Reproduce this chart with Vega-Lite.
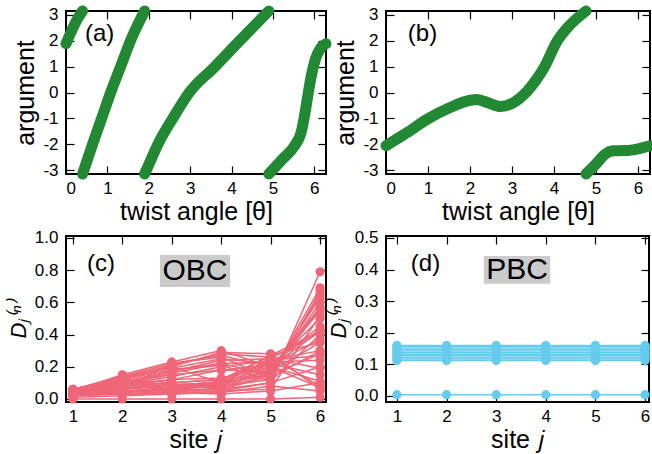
{
  "$schema": "https://vega.github.io/schema/vega-lite/v6.json",
  "background": "white",
  "padding": {"left": 6, "top": 4, "right": 0, "bottom": 0},
  "bounds": "flush",
  "columns": 2,
  "spacing": {"row": 62, "column": 60},
  "datasets": {
    "a": [
      {"seg": 1, "t": 0, "a": 1.88}, {"seg": 1, "t": 0.1, "a": 2.25}, {"seg": 1, "t": 0.2, "a": 2.6}, {"seg": 1, "t": 0.3, "a": 2.9}, {"seg": 1, "t": 0.4, "a": 3.1416},
      {"seg": 2, "t": 0.4, "a": -3.1416}, {"seg": 2, "t": 0.64, "a": -2}, {"seg": 2, "t": 0.86, "a": -1}, {"seg": 2, "t": 1.08, "a": 0}, {"seg": 2, "t": 1.32, "a": 1}, {"seg": 2, "t": 1.56, "a": 2}, {"seg": 2, "t": 1.9, "a": 3.1416},
      {"seg": 3, "t": 1.9, "a": -3.1416}, {"seg": 3, "t": 2.05, "a": -2.6}, {"seg": 3, "t": 2.22, "a": -2}, {"seg": 3, "t": 2.58, "a": -1}, {"seg": 3, "t": 2.98, "a": 0}, {"seg": 3, "t": 3.6, "a": 1}, {"seg": 3, "t": 4.2, "a": 2}, {"seg": 3, "t": 4.9, "a": 3.1416},
      {"seg": 4, "t": 4.9, "a": -3.1416}, {"seg": 4, "t": 5.23, "a": -2.57}, {"seg": 4, "t": 5.52, "a": -2.06}, {"seg": 4, "t": 5.68, "a": -1.55}, {"seg": 4, "t": 5.76, "a": -0.93}, {"seg": 4, "t": 5.84, "a": -0.16}, {"seg": 4, "t": 5.93, "a": 0.66}, {"seg": 4, "t": 6.03, "a": 1.3}, {"seg": 4, "t": 6.15, "a": 1.7}, {"seg": 4, "t": 6.2832, "a": 1.88}
    ],
    "b": [
      {"seg": 1, "t": 0, "a": -2.05}, {"seg": 1, "t": 0.5, "a": -1.55}, {"seg": 1, "t": 0.96, "a": -1.05}, {"seg": 1, "t": 1.5, "a": -0.6}, {"seg": 1, "t": 2.0, "a": -0.3}, {"seg": 1, "t": 2.15, "a": -0.27}, {"seg": 1, "t": 2.4, "a": -0.38}, {"seg": 1, "t": 2.72, "a": -0.54}, {"seg": 1, "t": 3.0, "a": -0.42}, {"seg": 1, "t": 3.36, "a": 0.05}, {"seg": 1, "t": 3.76, "a": 0.95}, {"seg": 1, "t": 4.08, "a": 2.0}, {"seg": 1, "t": 4.32, "a": 2.5}, {"seg": 1, "t": 4.76, "a": 3.1416},
      {"seg": 2, "t": 4.76, "a": -3.1416}, {"seg": 2, "t": 5.0, "a": -2.75}, {"seg": 2, "t": 5.2, "a": -2.4}, {"seg": 2, "t": 5.4, "a": -2.25}, {"seg": 2, "t": 5.7, "a": -2.24}, {"seg": 2, "t": 6.0, "a": -2.17}, {"seg": 2, "t": 6.2832, "a": -2.05}
    ],
    "c": [
      {"n":1,"j":1,"D":0.01},{"n":1,"j":2,"D":0.02},{"n":1,"j":3,"D":0.03},{"n":1,"j":4,"D":0.05},{"n":1,"j":5,"D":0.10},{"n":1,"j":6,"D":0.79},
      {"n":2,"j":1,"D":0.02},{"n":2,"j":2,"D":0.03},{"n":2,"j":3,"D":0.04},{"n":2,"j":4,"D":0.07},{"n":2,"j":5,"D":0.15},{"n":2,"j":6,"D":0.69},
      {"n":3,"j":1,"D":0.02},{"n":3,"j":2,"D":0.04},{"n":3,"j":3,"D":0.06},{"n":3,"j":4,"D":0.09},{"n":3,"j":5,"D":0.16},{"n":3,"j":6,"D":0.63},
      {"n":4,"j":1,"D":0.03},{"n":4,"j":2,"D":0.05},{"n":4,"j":3,"D":0.07},{"n":4,"j":4,"D":0.10},{"n":4,"j":5,"D":0.15},{"n":4,"j":6,"D":0.60},
      {"n":5,"j":1,"D":0.03},{"n":5,"j":2,"D":0.06},{"n":5,"j":3,"D":0.08},{"n":5,"j":4,"D":0.11},{"n":5,"j":5,"D":0.17},{"n":5,"j":6,"D":0.55},
      {"n":6,"j":1,"D":0.04},{"n":6,"j":2,"D":0.07},{"n":6,"j":3,"D":0.09},{"n":6,"j":4,"D":0.10},{"n":6,"j":5,"D":0.20},{"n":6,"j":6,"D":0.50},
      {"n":7,"j":1,"D":0.03},{"n":7,"j":2,"D":0.08},{"n":7,"j":3,"D":0.10},{"n":7,"j":4,"D":0.12},{"n":7,"j":5,"D":0.22},{"n":7,"j":6,"D":0.45},
      {"n":8,"j":1,"D":0.04},{"n":8,"j":2,"D":0.09},{"n":8,"j":3,"D":0.12},{"n":8,"j":4,"D":0.13},{"n":8,"j":5,"D":0.20},{"n":8,"j":6,"D":0.42},
      {"n":9,"j":1,"D":0.05},{"n":9,"j":2,"D":0.10},{"n":9,"j":3,"D":0.15},{"n":9,"j":4,"D":0.18},{"n":9,"j":5,"D":0.17},{"n":9,"j":6,"D":0.35},
      {"n":10,"j":1,"D":0.05},{"n":10,"j":2,"D":0.12},{"n":10,"j":3,"D":0.18},{"n":10,"j":4,"D":0.22},{"n":10,"j":5,"D":0.15},{"n":10,"j":6,"D":0.28},
      {"n":11,"j":1,"D":0.06},{"n":11,"j":2,"D":0.14},{"n":11,"j":3,"D":0.22},{"n":11,"j":4,"D":0.27},{"n":11,"j":5,"D":0.20},{"n":11,"j":6,"D":0.11},
      {"n":12,"j":1,"D":0.05},{"n":12,"j":2,"D":0.15},{"n":12,"j":3,"D":0.23},{"n":12,"j":4,"D":0.30},{"n":12,"j":5,"D":0.20},{"n":12,"j":6,"D":0.07},
      {"n":13,"j":1,"D":0.04},{"n":13,"j":2,"D":0.13},{"n":13,"j":3,"D":0.21},{"n":13,"j":4,"D":0.28},{"n":13,"j":5,"D":0.26},{"n":13,"j":6,"D":0.08},
      {"n":14,"j":1,"D":0.05},{"n":14,"j":2,"D":0.12},{"n":14,"j":3,"D":0.20},{"n":14,"j":4,"D":0.29},{"n":14,"j":5,"D":0.28},{"n":14,"j":6,"D":0.06},
      {"n":15,"j":1,"D":0.06},{"n":15,"j":2,"D":0.13},{"n":15,"j":3,"D":0.19},{"n":15,"j":4,"D":0.25},{"n":15,"j":5,"D":0.22},{"n":15,"j":6,"D":0.15},
      {"n":16,"j":1,"D":0.04},{"n":16,"j":2,"D":0.11},{"n":16,"j":3,"D":0.17},{"n":16,"j":4,"D":0.24},{"n":16,"j":5,"D":0.25},{"n":16,"j":6,"D":0.19},
      {"n":17,"j":1,"D":0.05},{"n":17,"j":2,"D":0.10},{"n":17,"j":3,"D":0.16},{"n":17,"j":4,"D":0.22},{"n":17,"j":5,"D":0.23},{"n":17,"j":6,"D":0.24},
      {"n":18,"j":1,"D":0.03},{"n":18,"j":2,"D":0.09},{"n":18,"j":3,"D":0.14},{"n":18,"j":4,"D":0.20},{"n":18,"j":5,"D":0.24},{"n":18,"j":6,"D":0.30},
      {"n":19,"j":1,"D":0.04},{"n":19,"j":2,"D":0.08},{"n":19,"j":3,"D":0.12},{"n":19,"j":4,"D":0.18},{"n":19,"j":5,"D":0.21},{"n":19,"j":6,"D":0.37},
      {"n":20,"j":1,"D":0.02},{"n":20,"j":2,"D":0.06},{"n":20,"j":3,"D":0.09},{"n":20,"j":4,"D":0.08},{"n":20,"j":5,"D":0.19},{"n":20,"j":6,"D":0.56},
      {"n":21,"j":1,"D":0.03},{"n":21,"j":2,"D":0.07},{"n":21,"j":3,"D":0.08},{"n":21,"j":4,"D":0.07},{"n":21,"j":5,"D":0.18},{"n":21,"j":6,"D":0.57},
      {"n":22,"j":1,"D":0.04},{"n":22,"j":2,"D":0.05},{"n":22,"j":3,"D":0.06},{"n":22,"j":4,"D":0.06},{"n":22,"j":5,"D":0.14},{"n":22,"j":6,"D":0.65},
      {"n":23,"j":1,"D":0.05},{"n":23,"j":2,"D":0.10},{"n":23,"j":3,"D":0.08},{"n":23,"j":4,"D":0.10},{"n":23,"j":5,"D":0.25},{"n":23,"j":6,"D":0.42},
      {"n":24,"j":1,"D":0.04},{"n":24,"j":2,"D":0.12},{"n":24,"j":3,"D":0.10},{"n":24,"j":4,"D":0.12},{"n":24,"j":5,"D":0.27},{"n":24,"j":6,"D":0.35},
      {"n":25,"j":1,"D":0.06},{"n":25,"j":2,"D":0.11},{"n":25,"j":3,"D":0.09},{"n":25,"j":4,"D":0.09},{"n":25,"j":5,"D":0.22},{"n":25,"j":6,"D":0.43},
      {"n":26,"j":1,"D":0.03},{"n":26,"j":2,"D":0.04},{"n":26,"j":3,"D":0.06},{"n":26,"j":4,"D":0.08},{"n":26,"j":5,"D":0.12},{"n":26,"j":6,"D":0.67},
      {"n":27,"j":1,"D":0.00},{"n":27,"j":2,"D":0.00},{"n":27,"j":3,"D":0.00},{"n":27,"j":4,"D":0.00},{"n":27,"j":5,"D":0.00},{"n":27,"j":6,"D":0.01},
      {"n":28,"j":1,"D":0.05},{"n":28,"j":2,"D":0.14},{"n":28,"j":3,"D":0.20},{"n":28,"j":4,"D":0.10},{"n":28,"j":5,"D":0.24},{"n":28,"j":6,"D":0.27},
      {"n":29,"j":1,"D":0.04},{"n":29,"j":2,"D":0.10},{"n":29,"j":3,"D":0.06},{"n":29,"j":4,"D":0.11},{"n":29,"j":5,"D":0.27},{"n":29,"j":6,"D":0.42},
      {"n":30,"j":1,"D":0.03},{"n":30,"j":2,"D":0.06},{"n":30,"j":3,"D":0.22},{"n":30,"j":4,"D":0.26},{"n":30,"j":5,"D":0.13},{"n":30,"j":6,"D":0.30},
      {"n":31,"j":1,"D":0.02},{"n":31,"j":2,"D":0.08},{"n":31,"j":3,"D":0.18},{"n":31,"j":4,"D":0.21},{"n":31,"j":5,"D":0.11},{"n":31,"j":6,"D":0.40},
      {"n":32,"j":1,"D":0.05},{"n":32,"j":2,"D":0.09},{"n":32,"j":3,"D":0.05},{"n":32,"j":4,"D":0.05},{"n":32,"j":5,"D":0.06},{"n":32,"j":6,"D":0.52},
      {"n":33,"j":1,"D":0.03},{"n":33,"j":2,"D":0.05},{"n":33,"j":3,"D":0.04},{"n":33,"j":4,"D":0.03},{"n":33,"j":5,"D":0.05},{"n":33,"j":6,"D":0.10},
      {"n":34,"j":1,"D":0.04},{"n":34,"j":2,"D":0.03},{"n":34,"j":3,"D":0.03},{"n":34,"j":4,"D":0.04},{"n":34,"j":5,"D":0.08},{"n":34,"j":6,"D":0.05},
      {"n":35,"j":1,"D":0.02},{"n":35,"j":2,"D":0.03},{"n":35,"j":3,"D":0.05},{"n":35,"j":4,"D":0.06},{"n":35,"j":5,"D":0.10},{"n":35,"j":6,"D":0.20}
    ],
    "d": [
      {"n":1,"j":1,"D":0.004},{"n":1,"j":2,"D":0.004},{"n":1,"j":3,"D":0.004},{"n":1,"j":4,"D":0.004},{"n":1,"j":5,"D":0.004},{"n":1,"j":6,"D":0.004},
      {"n":2,"j":1,"D":0.112},{"n":2,"j":2,"D":0.112},{"n":2,"j":3,"D":0.112},{"n":2,"j":4,"D":0.112},{"n":2,"j":5,"D":0.112},{"n":2,"j":6,"D":0.112},
      {"n":3,"j":1,"D":0.117},{"n":3,"j":2,"D":0.117},{"n":3,"j":3,"D":0.117},{"n":3,"j":4,"D":0.117},{"n":3,"j":5,"D":0.117},{"n":3,"j":6,"D":0.117},
      {"n":4,"j":1,"D":0.122},{"n":4,"j":2,"D":0.122},{"n":4,"j":3,"D":0.122},{"n":4,"j":4,"D":0.122},{"n":4,"j":5,"D":0.122},{"n":4,"j":6,"D":0.122},
      {"n":5,"j":1,"D":0.127},{"n":5,"j":2,"D":0.127},{"n":5,"j":3,"D":0.127},{"n":5,"j":4,"D":0.127},{"n":5,"j":5,"D":0.127},{"n":5,"j":6,"D":0.127},
      {"n":6,"j":1,"D":0.132},{"n":6,"j":2,"D":0.132},{"n":6,"j":3,"D":0.132},{"n":6,"j":4,"D":0.132},{"n":6,"j":5,"D":0.132},{"n":6,"j":6,"D":0.132},
      {"n":7,"j":1,"D":0.137},{"n":7,"j":2,"D":0.137},{"n":7,"j":3,"D":0.137},{"n":7,"j":4,"D":0.137},{"n":7,"j":5,"D":0.137},{"n":7,"j":6,"D":0.137},
      {"n":8,"j":1,"D":0.142},{"n":8,"j":2,"D":0.142},{"n":8,"j":3,"D":0.142},{"n":8,"j":4,"D":0.142},{"n":8,"j":5,"D":0.142},{"n":8,"j":6,"D":0.142},
      {"n":9,"j":1,"D":0.147},{"n":9,"j":2,"D":0.147},{"n":9,"j":3,"D":0.147},{"n":9,"j":4,"D":0.147},{"n":9,"j":5,"D":0.147},{"n":9,"j":6,"D":0.147},
      {"n":10,"j":1,"D":0.152},{"n":10,"j":2,"D":0.152},{"n":10,"j":3,"D":0.152},{"n":10,"j":4,"D":0.152},{"n":10,"j":5,"D":0.152},{"n":10,"j":6,"D":0.152},
      {"n":11,"j":1,"D":0.157},{"n":11,"j":2,"D":0.157},{"n":11,"j":3,"D":0.157},{"n":11,"j":4,"D":0.157},{"n":11,"j":5,"D":0.157},{"n":11,"j":6,"D":0.157},
      {"n":12,"j":1,"D":0.16},{"n":12,"j":2,"D":0.16},{"n":12,"j":3,"D":0.16},{"n":12,"j":4,"D":0.16},{"n":12,"j":5,"D":0.16},{"n":12,"j":6,"D":0.16}
    ],
    "labA": [{"x": 0.46, "y": 2.25, "label": "(a)"}],
    "labB": [{"x": 0.52, "y": 2.25, "label": "(b)"}],
    "labC": [{"x": 1.285, "y": 0.838, "label": "(c)"}],
    "labD": [{"x": 1.28, "y": 0.418, "label": "(d)"}],
    "boxC": [{"x": 2.76, "x2": 4.18, "y": 0.695, "y2": 0.894, "xc": 3.47, "yc": 0.795, "label": "OBC"}],
    "boxD": [{"x": 2.75, "x2": 4.09, "y": 0.355, "y2": 0.443, "xc": 3.42, "yc": 0.399, "label": "PBC"}]
  },
  "concat": [
    {
      "width": 260, "height": 163,
      "layer": [
        {
          "data": {"name": "a"},
          "mark": {"type": "line", "color": "#228833", "strokeWidth": 11, "strokeCap": "round", "strokeJoin": "round", "interpolate": "monotone"},
          "encoding": {
            "x": {"field": "t", "type": "quantitative", "scale": {"domain": [0, 6.2832], "nice": false, "zero": false}, "axis": {"title": "twist angle [θ]", "values": [0, 1, 2, 3, 4, 5, 6], "labelExpr": "'' + datum.value"}},
            "y": {"field": "a", "type": "quantitative", "scale": {"domain": [-3.1416, 3.1416], "nice": false, "zero": false}, "axis": {"title": "argument", "values": [-3, -2, -1, 0, 1, 2, 3], "labelExpr": "'' + datum.value"}},
            "detail": {"field": "seg", "type": "nominal"}
          }
        },
        {
          "data": {"name": "labA"},
          "mark": {"type": "text", "fontSize": 24, "align": "left", "baseline": "middle"},
          "encoding": {
            "x": {"field": "x", "type": "quantitative", "scale": {"domain": [0, 6.2832], "nice": false, "zero": false}, "axis": {"orient": "top", "labels": false, "title": null, "values": [0, 1, 2, 3, 4, 5, 6]}},
            "y": {"field": "y", "type": "quantitative", "scale": {"domain": [-3.1416, 3.1416], "nice": false, "zero": false}, "axis": {"orient": "right", "labels": false, "title": null, "values": [-3, -2, -1, 0, 1, 2, 3]}},
            "text": {"field": "label"}
          }
        }
      ],
      "resolve": {"axis": {"x": "independent", "y": "independent"}}
    },
    {
      "width": 264, "height": 163,
      "layer": [
        {
          "data": {"name": "b"},
          "mark": {"type": "line", "color": "#228833", "strokeWidth": 11, "strokeCap": "round", "strokeJoin": "round", "interpolate": "monotone"},
          "encoding": {
            "x": {"field": "t", "type": "quantitative", "scale": {"domain": [0, 6.2832], "nice": false, "zero": false}, "axis": {"title": "twist angle [θ]", "values": [0, 1, 2, 3, 4, 5, 6], "labelExpr": "'' + datum.value"}},
            "y": {"field": "a", "type": "quantitative", "scale": {"domain": [-3.1416, 3.1416], "nice": false, "zero": false}, "axis": {"title": "argument", "values": [-3, -2, -1, 0, 1, 2, 3], "labelExpr": "'' + datum.value"}},
            "detail": {"field": "seg", "type": "nominal"}
          }
        },
        {
          "data": {"name": "labB"},
          "mark": {"type": "text", "fontSize": 24, "align": "left", "baseline": "middle"},
          "encoding": {
            "x": {"field": "x", "type": "quantitative", "scale": {"domain": [0, 6.2832], "nice": false, "zero": false}, "axis": {"orient": "top", "labels": false, "title": null, "values": [0, 1, 2, 3, 4, 5, 6]}},
            "y": {"field": "y", "type": "quantitative", "scale": {"domain": [-3.1416, 3.1416], "nice": false, "zero": false}, "axis": {"orient": "right", "labels": false, "title": null, "values": [-3, -2, -1, 0, 1, 2, 3]}},
            "text": {"field": "label"}
          }
        }
      ],
      "resolve": {"axis": {"x": "independent", "y": "independent"}}
    },
    {
      "width": 260, "height": 166,
      "layer": [
        {
          "data": {"name": "boxC"},
          "mark": {"type": "rect", "color": "#cbcbcb"},
          "encoding": {
            "x": {"field": "x", "type": "quantitative", "scale": {"domain": [0.86, 6.12], "nice": false, "zero": false}, "axis": null},
            "x2": {"field": "x2"},
            "y": {"field": "y", "type": "quantitative", "scale": {"domain": [-0.019, 1.012], "nice": false, "zero": false}, "axis": null},
            "y2": {"field": "y2"}
          }
        },
        {
          "data": {"name": "boxC"},
          "mark": {"type": "text", "fontSize": 30, "align": "center", "baseline": "middle"},
          "encoding": {
            "x": {"field": "xc", "type": "quantitative", "scale": {"domain": [0.86, 6.12], "nice": false, "zero": false}, "axis": null},
            "y": {"field": "yc", "type": "quantitative", "scale": {"domain": [-0.019, 1.012], "nice": false, "zero": false}, "axis": null},
            "text": {"field": "label"}
          }
        },
        {
          "data": {"name": "c"},
          "mark": {"type": "line", "color": "#EE6677", "strokeWidth": 1.5, "point": {"filled": true, "size": 85, "color": "#EE6677"}},
          "encoding": {
            "x": {"field": "j", "type": "quantitative", "scale": {"domain": [0.86, 6.12], "nice": false, "zero": false}, "axis": {"title": "site 𝑗", "values": [1, 2, 3, 4, 5, 6], "format": "d"}},
            "y": {"field": "D", "type": "quantitative", "scale": {"domain": [-0.019, 1.012], "nice": false, "zero": false}, "axis": {"title": "Dⱼ⁽ⁿ⁾", "titleFontStyle": "italic", "titleFontSize": 22, "values": [0, 0.2, 0.4, 0.6, 0.8, 1.0], "format": ".1f"}},
            "detail": {"field": "n", "type": "nominal"}
          }
        },
        {
          "data": {"name": "labC"},
          "mark": {"type": "text", "fontSize": 24, "align": "left", "baseline": "middle"},
          "encoding": {
            "x": {"field": "x", "type": "quantitative", "scale": {"domain": [0.86, 6.12], "nice": false, "zero": false}, "axis": {"orient": "top", "labels": false, "title": null, "values": [1, 2, 3, 4, 5, 6]}},
            "y": {"field": "y", "type": "quantitative", "scale": {"domain": [-0.019, 1.012], "nice": false, "zero": false}, "axis": {"orient": "right", "labels": false, "title": null, "values": [0, 0.2, 0.4, 0.6, 0.8, 1.0]}},
            "text": {"field": "label"}
          }
        }
      ],
      "resolve": {"axis": {"x": "independent", "y": "independent"}}
    },
    {
      "width": 263, "height": 166,
      "layer": [
        {
          "data": {"name": "boxD"},
          "mark": {"type": "rect", "color": "#cbcbcb"},
          "encoding": {
            "x": {"field": "x", "type": "quantitative", "scale": {"domain": [0.78, 6.08], "nice": false, "zero": false}, "axis": null},
            "x2": {"field": "x2"},
            "y": {"field": "y", "type": "quantitative", "scale": {"domain": [-0.019, 0.506], "nice": false, "zero": false}, "axis": null},
            "y2": {"field": "y2"}
          }
        },
        {
          "data": {"name": "boxD"},
          "mark": {"type": "text", "fontSize": 30, "align": "center", "baseline": "middle"},
          "encoding": {
            "x": {"field": "xc", "type": "quantitative", "scale": {"domain": [0.78, 6.08], "nice": false, "zero": false}, "axis": null},
            "y": {"field": "yc", "type": "quantitative", "scale": {"domain": [-0.019, 0.506], "nice": false, "zero": false}, "axis": null},
            "text": {"field": "label"}
          }
        },
        {
          "data": {"name": "d"},
          "mark": {"type": "line", "color": "#66CCEE", "strokeWidth": 1.5, "point": {"filled": true, "size": 85, "color": "#66CCEE"}},
          "encoding": {
            "x": {"field": "j", "type": "quantitative", "scale": {"domain": [0.78, 6.08], "nice": false, "zero": false}, "axis": {"title": "site 𝑗", "values": [1, 2, 3, 4, 5, 6], "format": "d"}},
            "y": {"field": "D", "type": "quantitative", "scale": {"domain": [-0.019, 0.506], "nice": false, "zero": false}, "axis": {"title": "Dⱼ⁽ⁿ⁾", "titleFontStyle": "italic", "titleFontSize": 22, "values": [0, 0.1, 0.2, 0.3, 0.4, 0.5], "format": ".1f"}},
            "detail": {"field": "n", "type": "nominal"}
          }
        },
        {
          "data": {"name": "labD"},
          "mark": {"type": "text", "fontSize": 24, "align": "left", "baseline": "middle"},
          "encoding": {
            "x": {"field": "x", "type": "quantitative", "scale": {"domain": [0.78, 6.08], "nice": false, "zero": false}, "axis": {"orient": "top", "labels": false, "title": null, "values": [1, 2, 3, 4, 5, 6]}},
            "y": {"field": "y", "type": "quantitative", "scale": {"domain": [-0.019, 0.506], "nice": false, "zero": false}, "axis": {"orient": "right", "labels": false, "title": null, "values": [0, 0.1, 0.2, 0.3, 0.4, 0.5]}},
            "text": {"field": "label"}
          }
        }
      ],
      "resolve": {"axis": {"x": "independent", "y": "independent"}}
    }
  ],
  "config": {
    "font": "Liberation Sans",
    "view": {"stroke": "black", "strokeWidth": 2},
    "axis": {
      "domain": false, "grid": false,
      "tickSize": -8, "tickWidth": 1.2, "tickColor": "black",
      "labelFont": "Liberation Sans", "labelFontSize": 17, "labelColor": "black", "labelPadding": 14, "labelOverlap": false,
      "titleFont": "Liberation Sans", "titleFontSize": 25, "titleFontWeight": "normal", "titleColor": "black", "titlePadding": 4
    },
    "axisY": {"labelPadding": 16},
    "axisX": {"titlePadding": 3},
    "text": {"font": "Liberation Sans", "color": "black"}
  }
}
